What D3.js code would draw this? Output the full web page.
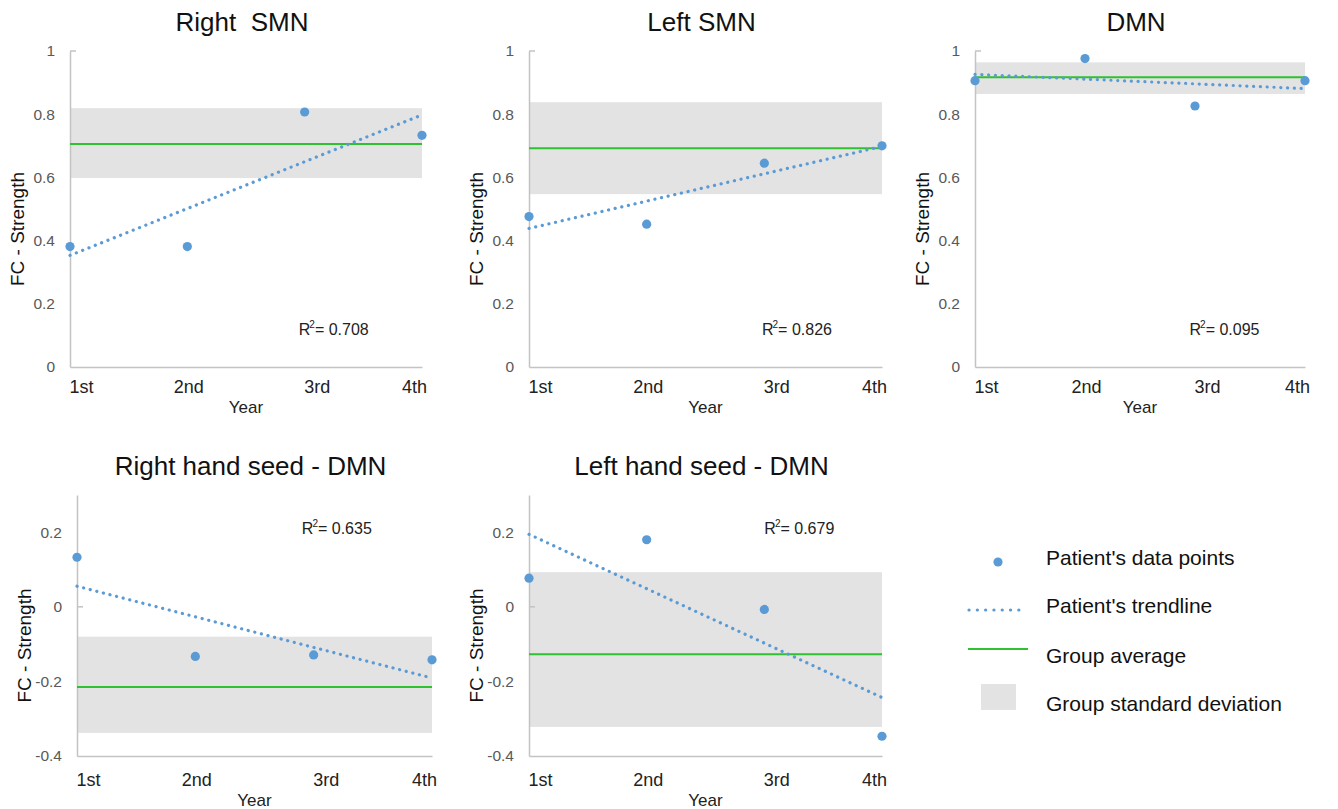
<!DOCTYPE html>
<html>
<head>
<meta charset="utf-8">
<script src="https://cdn.jsdelivr.net/npm/d3@7"></script>
<style>
  body { margin: 0; background: #fff; }
  svg { font-family: 'Liberation Sans', Arial, sans-serif; }
  text { white-space: pre; }
</style>
</head>
<body>
<svg id="chart" width="1338" height="809"></svg>
<script>
// years on the x axis
const years = ['1st', '2nd', '3rd', '4th']

// patient's FC strength per year
const rightSMN = [0.381, 0.381, 0.807, 0.733]
const leftSMN = [0.476, 0.452, 0.645, 0.700]
const dmn = [0.906, 0.976, 0.826, 0.906]
const rightHandDMN = [0.133, -0.133, -0.129, -0.142]
const leftHandDMN = [0.077, 0.180, -0.007, -0.347]

// group average and group mean +/- sd
const groupAverage = [0.706, 0.692, 0.917, -0.215, -0.127]
const groupLow = [0.598, 0.547, 0.864, -0.338, -0.322]
const groupHigh = [0.819, 0.838, 0.964, -0.080, 0.093]

const titles = ['Right  SMN', 'Left SMN', 'DMN', 'Right hand seed - DMN', 'Left hand seed - DMN']
const rSquared = ['0.708', '0.826', '0.095', '0.635', '0.679']

const topTicks = [0, 0.2, 0.4, 0.6, 0.8, 1]
const bottomTicks = [-0.4, -0.2, 0, 0.2]

const legendLabels = ["Patient's data points", "Patient's trendline", 'Group average', 'Group standard deviation']

const pointColor = '#5b9bd5'
const greenColor = '#2fc12f'
const bandColor = '#e3e3e3'
const axisColor = '#c3c3c3'

// panel frames (pixels)
const panels = [
  { values: rightSMN, x0: 70, x1: 422, top: 51, bottom: 367, domain: [0, 1], ticks: topTicks, r2: [2.95, 0.12] },
  { values: leftSMN, x0: 529, x1: 882, top: 51, bottom: 367, domain: [0, 1], ticks: topTicks, r2: [2.98, 0.12] },
  { values: dmn, x0: 975, x1: 1305, top: 51, bottom: 367, domain: [0, 1], ticks: topTicks, r2: [2.95, 0.12] },
  { values: rightHandDMN, x0: 77, x1: 432, top: 495, bottom: 756, domain: [-0.4, 0.3], ticks: bottomTicks, r2: [2.9, 0.212] },
  { values: leftHandDMN, x0: 529, x1: 882, top: 495, bottom: 756, domain: [-0.4, 0.3], ticks: bottomTicks, r2: [3.0, 0.212] }
]

// small shift of each year label, as in the source figure
const yearLabelShift = [11, 1, 12, -8]

const svg = d3.select('#chart')

// least squares fit through (1..4, values)
const fitLine = values => {
  const xs = values.map((v, i) => i + 1)
  const mx = d3.mean(xs)
  const my = d3.mean(values)
  const slope = d3.sum(xs, (x, i) => (x - mx) * (values[i] - my)) / d3.sum(xs, x => (x - mx) ** 2)
  return x => my + slope * (x - mx)
}

panels.forEach((p, i) => {
  const g = svg.append('g')
  const lower = p.domain[0] < 0

  const x = d3.scaleLinear().domain([1, 4]).range([p.x0, p.x1])
  const y = d3.scaleLinear().domain(p.domain).range([p.bottom, p.top])

  // group standard deviation band
  g.append('rect')
    .attr('x', x(1))
    .attr('width', x(4) - x(1))
    .attr('y', y(groupHigh[i]))
    .attr('height', y(groupLow[i]) - y(groupHigh[i]))
    .attr('fill', bandColor)

  // axes
  const yAxis = g.append('g')
    .attr('transform', `translate(${p.x0}, 0)`)
    .call(d3.axisLeft(y).tickValues(p.ticks).tickSize(0).tickPadding(15)
      .tickFormat(d => String(+d.toFixed(1))))
  yAxis.select('.domain').attr('stroke', axisColor).attr('stroke-width', 1.5)
  yAxis.selectAll('text').attr('font-size', 15.5).attr('fill', '#595959')
    .attr('font-family', "'Liberation Sans', Arial, sans-serif")

  // short tick at the top value / zero line
  const markValue = lower ? 0 : 1
  g.append('line')
    .attr('x1', p.x0).attr('x2', p.x0 + 6)
    .attr('y1', y(markValue)).attr('y2', y(markValue))
    .attr('stroke', axisColor).attr('stroke-width', 1.5)

  const xAxis = g.append('g')
    .attr('transform', `translate(0, ${p.bottom})`)
    .call(d3.axisBottom(x).tickValues([1, 2, 3, 4]).tickSize(0).tickSizeOuter(0).tickPadding(lower ? 17 : 13)
      .tickFormat(d => years[d - 1]))
  xAxis.select('.domain').attr('stroke', axisColor).attr('stroke-width', 1.5)
  xAxis.selectAll('text')
    .attr('font-size', 18).attr('fill', '#222')
    .attr('font-family', "'Liberation Sans', Arial, sans-serif")
    .attr('dx', (d, k) => yearLabelShift[k])

  // group average
  g.append('line')
    .attr('x1', x(1)).attr('x2', x(4))
    .attr('y1', y(groupAverage[i])).attr('y2', y(groupAverage[i]))
    .attr('stroke', greenColor).attr('stroke-width', 2)

  // patient's trendline
  const fit = fitLine(p.values)
  g.append('line')
    .attr('x1', x(1)).attr('x2', x(4))
    .attr('y1', y(fit(1))).attr('y2', y(fit(4)))
    .attr('stroke', pointColor).attr('stroke-width', 3.2)
    .attr('stroke-linecap', 'round')
    .attr('stroke-dasharray', '0.1 6.7')

  // patient's data points
  g.selectAll('circle')
    .data(p.values)
    .join('circle')
    .attr('cx', (d, k) => x(k + 1))
    .attr('cy', d => y(d))
    .attr('r', 4.6)
    .attr('fill', pointColor)

  // title
  const cx = (p.x0 + p.x1) / 2
  g.append('text')
    .attr('x', cx - 4)
    .attr('y', p.top - 20)
    .attr('text-anchor', 'middle')
    .attr('font-size', 26)
    .attr('fill', '#111')
    .text(titles[i])

  // axis titles
  g.append('text')
    .attr('x', cx)
    .attr('y', p.bottom + (lower ? 50 : 46))
    .attr('text-anchor', 'middle')
    .attr('font-size', 17)
    .attr('fill', '#222')
    .text('Year')

  g.append('text')
    .attr('transform', `translate(${p.x0 - 46}, ${(p.top + p.bottom) / 2 + 20}) rotate(-90)`)
    .attr('text-anchor', 'middle')
    .attr('font-size', 19)
    .attr('fill', '#111')
    .text('FC - Strength')

  // R squared
  const r2 = g.append('text')
    .attr('x', x(p.r2[0]))
    .attr('y', y(p.r2[1]) + 6)
    .attr('font-size', 16)
    .attr('fill', '#222')
  r2.append('tspan').text('R')
  r2.append('tspan').attr('font-size', 10).attr('dx', -1).attr('dy', -7).text('2')
  r2.append('tspan').attr('dy', 7).text('= ' + rSquared[i])
})

// legend
const legend = svg.append('g').attr('transform', 'translate(968, 0)')
const rowY = [562, 610, 660, 708]

legend.append('circle').attr('cx', 30).attr('cy', rowY[0]).attr('r', 4.6).attr('fill', pointColor)
legend.append('line')
  .attr('x1', 1).attr('x2', 59).attr('y1', rowY[1]).attr('y2', rowY[1])
  .attr('stroke', pointColor).attr('stroke-width', 3.2)
  .attr('stroke-linecap', 'round').attr('stroke-dasharray', '0.1 8.2')
legend.append('line')
  .attr('x1', 0).attr('x2', 60).attr('y1', rowY[2] - 11).attr('y2', rowY[2] - 11)
  .attr('stroke', greenColor).attr('stroke-width', 2)
legend.append('rect')
  .attr('x', 13).attr('y', rowY[3] - 24).attr('width', 35).attr('height', 26)
  .attr('fill', bandColor)

legend.selectAll('text.label')
  .data(legendLabels)
  .join('text')
  .attr('class', 'label')
  .attr('x', 78)
  .attr('y', (d, k) => rowY[k] + 3)
  .attr('font-size', 21)
  .attr('fill', '#111')
  .text(d => d)
</script>
</body>
</html>
